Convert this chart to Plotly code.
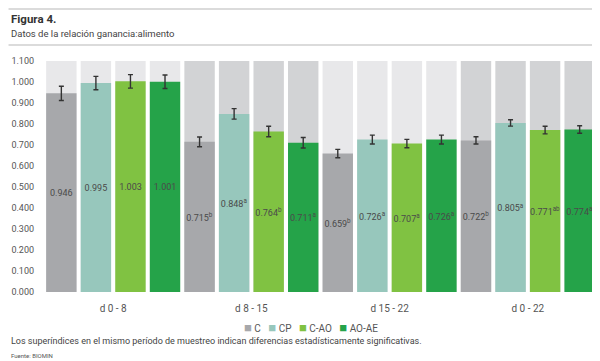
import plotly.graph_objects as go

groups = ["d 0 - 8", "d 8 - 15", "d 15 - 22", "d 0 - 22"]
series = ["C", "CP", "C-AO", "AO-AE"]
colors = ["#a7a8ab", "#97c7bc", "#80c242", "#25a349"]

values = {
    "C":     [0.946, 0.715, 0.659, 0.722],
    "CP":    [0.995, 0.848, 0.726, 0.805],
    "C-AO":  [1.003, 0.764, 0.707, 0.771],
    "AO-AE": [1.001, 0.711, 0.726, 0.774],
}
sups = {
    "C":     ["", "b", "b", "b"],
    "CP":    ["", "a", "a", "a"],
    "C-AO":  ["", "b", "a", "ab"],
    "AO-AE": ["", "a", "a", "a"],
}
errors = {
    "C":     [0.034, 0.023, 0.020, 0.017],
    "CP":    [0.032, 0.025, 0.021, 0.015],
    "C-AO":  [0.032, 0.025, 0.020, 0.018],
    "AO-AE": [0.032, 0.025, 0.021, 0.018],
}
y_max = 1.1
y_ticks = [i / 10 for i in range(12)]
y_ticktext = ["%.3f" % v for v in y_ticks]
bg_colors = ["#e8e8ea", "#d2d3d5", "#e8e8ea", "#d2d3d5"]

FONT = "Liberation Sans Narrow, Roboto, Arial Narrow, sans-serif"
# page body has an 8px margin: figure is drawn at (8, 8)
OFF = 8
W, H = 600 - OFF, 361 - OFF
ML, MR, MT, MB = 41.5 - OFF, 1, 61 - OFF, 69

fig = go.Figure()

n_s = len(series)
bx, bc = [], []
for g in range(len(groups)):
    for s in range(n_s):
        bx.append(g * n_s + s)
        bc.append(bg_colors[g])
fig.add_trace(go.Bar(x=bx, y=[y_max] * len(bx), marker=dict(color=bc, line=dict(width=0)),
                     width=0.88, showlegend=False, hoverinfo="skip"))

for s, name in enumerate(series):
    xs = [g * n_s + s for g in range(len(groups))]
    txt = []
    for v, sp in zip(values[name], sups[name]):
        t = "%.3f" % v
        if sp:
            t += "<sup>%s</sup>" % sp
        txt.append(t)
    fig.add_trace(go.Bar(
        x=xs, y=values[name], name=name,
        marker=dict(color=colors[s], line=dict(width=0)),
        width=0.88, showlegend=False,
        text=txt, textposition="inside", insidetextanchor="middle",
        textangle=0, constraintext="none",
        textfont=dict(family=FONT, size=9, color="#4a4a4a"),
        error_y=dict(type="data", array=errors[name], visible=True,
                     color="#333333", thickness=1.4, width=2.5),
    ))

centers = [g * n_s + (n_s - 1) / 2 for g in range(len(groups))]

fig.update_layout(
    width=W, height=H,
    margin=dict(l=ML, r=MR, t=MT, b=MB, autoexpand=False),
    barmode="overlay",
    plot_bgcolor="white", paper_bgcolor="white",
    font=dict(family=FONT, size=10, color="#555555"),
    xaxis=dict(range=[-0.56, 15.56], tickvals=centers, ticktext=groups,
               showgrid=False, zeroline=False, showline=False, ticks="",
               ticklabelstandoff=9,
               tickfont=dict(size=10, color="#555555")),
    yaxis=dict(range=[0, y_max], tickvals=y_ticks, ticktext=y_ticktext,
               showgrid=False, zeroline=False, showline=False, ticks="",
               ticklabelstandoff=7,
               tickfont=dict(size=9, color="#555555")),
    showlegend=False,
)

pw = W - ML - MR
ph = H - MT - MB
def px_x(x):
    return (x - OFF - ML) / pw
def px_y(y):
    return (H - MB - (y - OFF)) / ph

for yy in (5, 45):
    fig.add_shape(type="line", xref="paper", yref="paper", x0=px_x(OFF), x1=px_x(600),
                  y0=px_y(max(yy, OFF + 1)), y1=px_y(max(yy, OFF + 1)),
                  line=dict(color="#cfcfcf", width=1.5))

legend_parts = []
for name, c in zip(series, colors):
    legend_parts.append("<span style='color:%s;font-size:13px'>■</span> %s" % (c, name))
legend_text = "   ".join(legend_parts)

annos = [
    (8, 19, "<b>Figura 4.</b>", 11.5, "#333333", "left"),
    (8, 33, "Datos de la relación ganancia:alimento", 9.5, "#444444", "left"),
    (8, 341, "Los superíndices en el mismo período de muestreo indican diferencias estadísticamente significativas.", 9, "#444444", "left"),
    (8, 355, "Fuente: BIOMIN", 6, "#555555", "left"),
    (311, 327, legend_text, 10, "#555555", "center"),
]
for x, y, t, sz, c, xa in annos:
    fig.add_annotation(xref="paper", yref="paper", x=px_x(x), y=px_y(y), xanchor=xa,
                       yanchor="middle", text=t, showarrow=False,
                       font=dict(size=sz, color=c, family=FONT))

fig.write_html("out.html")
